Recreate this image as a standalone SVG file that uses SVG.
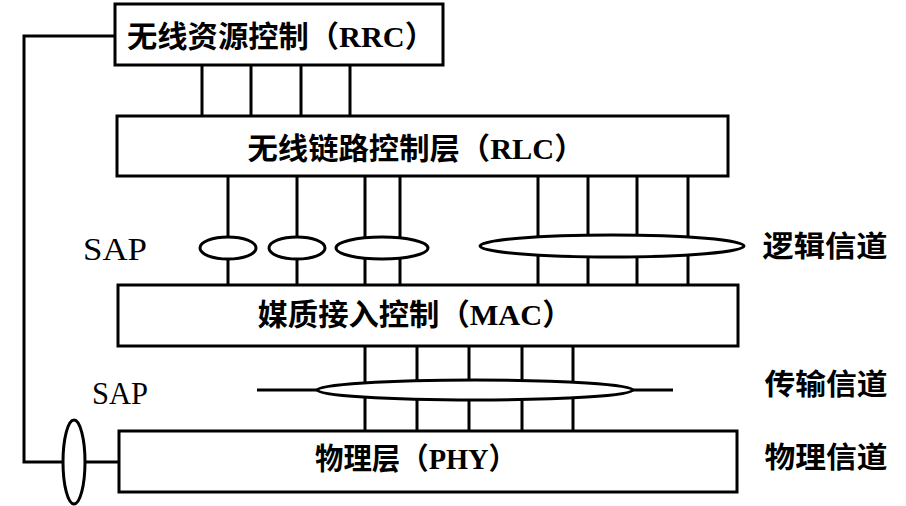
<svg xmlns="http://www.w3.org/2000/svg" width="906" height="506" viewBox="0 0 906 506">
<style>
.box{fill:#fff;stroke:#000;stroke-width:3}
.ln{fill:none;stroke:#000;stroke-width:3}
.ov{fill:#fff;stroke:#000;stroke-width:3}
.t{font-family:"Liberation Serif","Noto Sans CJK SC",serif;font-weight:bold;font-size:30px;fill:#000;text-anchor:middle;dominant-baseline:central}
.c{font-size:29px}
.s{font-family:"Liberation Serif",serif;font-size:31px;fill:#000;text-anchor:middle;dominant-baseline:central}
</style>
<rect width="906" height="506" fill="#fff"/>
<g id="connectors">
<path class="ln" d="M115,36 H24 V462 H119"/>
<path class="ln" d="M202,65 V116 M251,65 V116 M301,65 V116 M350,65 V116"/>
<path class="ln" d="M228,176 V285 M297,176 V285 M365,176 V285 M400,176 V285 M538,176 V285 M588,176 V285 M637,176 V285 M688,176 V285"/>
<path class="ln" d="M365,346 V431 M417,346 V431 M469,346 V431 M522,346 V431 M573,346 V431"/>
<path class="ln" d="M257,390 H673"/>
<ellipse class="ov" cx="228" cy="248" rx="28" ry="11"/>
<ellipse class="ov" cx="297" cy="248" rx="28" ry="11"/>
<ellipse class="ov" cx="382" cy="248" rx="46" ry="11"/>
<ellipse class="ov" cx="612" cy="246" rx="132" ry="11"/>
<ellipse class="ov" cx="475" cy="390" rx="158" ry="10"/>
<ellipse class="ov" cx="74" cy="462" rx="11" ry="42"/>
</g>
<g id="rrc">
<rect class="box" x="115" y="4" width="328" height="61"/>
<text class="t" x="281" y="36" textLength="308" lengthAdjust="spacingAndGlyphs">无线资源控制（RRC）</text>
</g>
<g id="rlc">
<rect class="box" x="117" y="116" width="611" height="60"/>
<text class="t" x="416" y="148" textLength="337" lengthAdjust="spacingAndGlyphs">无线链路控制层（RLC）</text>
</g>
<g id="mac">
<rect class="box" x="118" y="285" width="620" height="61"/>
<text class="t" x="415" y="314" textLength="315" lengthAdjust="spacingAndGlyphs">媒质接入控制（MAC）</text>
</g>
<g id="phy">
<rect class="box" x="119" y="431" width="618" height="61"/>
<text class="t" x="416" y="458" textLength="202" lengthAdjust="spacingAndGlyphs">物理层（PHY）</text>
</g>
<g id="labels">
<text class="s" x="115" y="249" textLength="64" lengthAdjust="spacingAndGlyphs">SAP</text>
<text class="s" x="120" y="393" textLength="56" lengthAdjust="spacingAndGlyphs">SAP</text>
<text class="t c" x="825" y="247" textLength="125" lengthAdjust="spacingAndGlyphs">逻辑信道</text>
<text class="t c" x="826" y="385" textLength="123" lengthAdjust="spacingAndGlyphs">传输信道</text>
<text class="t c" x="826" y="458" textLength="123" lengthAdjust="spacingAndGlyphs">物理信道</text>
</g>
</svg>
